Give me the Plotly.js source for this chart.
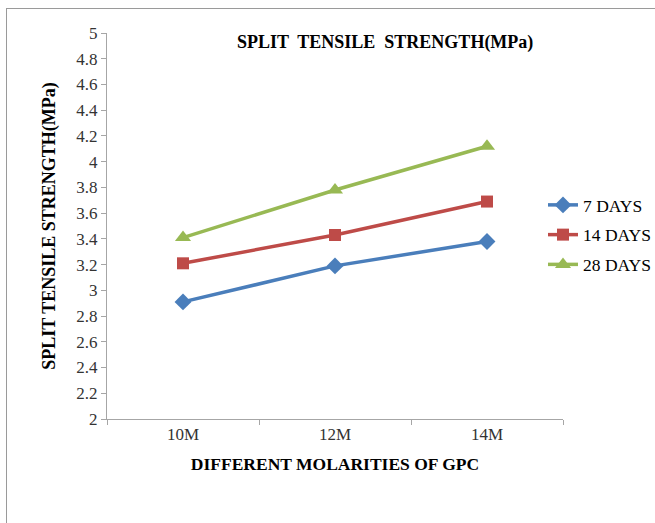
<!DOCTYPE html>
<html>
<head>
<meta charset="utf-8">
<script src="https://cdn.plot.ly/plotly-3.0.1.min.js"></script>
<style>
html,body{margin:0;padding:0;background:#fff;}
#wrap{position:relative;width:655px;height:523px;}
#chart{position:absolute;left:0;top:0;width:655px;height:523px;}
#frame{position:absolute;left:6px;top:8px;width:660px;height:530px;border-left:1px solid #9a9a9a;border-top:1px solid #9a9a9a;pointer-events:none;}
</style>
</head>
<body>
<div id="wrap"><div id="chart"></div><div id="frame"></div></div>
<script>
const categories = ['10M', '12M', '14M'];
const days7 = [2.91, 3.19, 3.38];
const days14 = [3.21, 3.43, 3.69];
const days28 = [3.41, 3.78, 4.12];
const seriesNames = ['7 DAYS', '14 DAYS', '28 DAYS'];
const yTicks = [2, 2.2, 2.4, 2.6, 2.8, 3, 3.2, 3.4, 3.6, 3.8, 4, 4.2, 4.4, 4.6, 4.8, 5];

const font = 'Liberation Serif, DejaVu Serif, serif';
const colors = ['#4a7ebb', '#be4b48', '#98b954'];
const symbols = ['diamond', 'square', 'triangle-up'];
const sizes = [13, 12, 14];
const data = [days7, days14, days28].map((v, i) => ({
  x: categories, y: v, name: seriesNames[i], type: 'scatter', mode: 'lines+markers',
  legendgroup: 'g' + i,
  line: {color: colors[i], width: 3.5},
  marker: {color: colors[i], symbol: symbols[i], size: sizes[i]}
}));

const layout = {
  width: 655, height: 523,
  margin: {l: 107, r: 92, t: 33, b: 104, autoexpand: false},
  paper_bgcolor: '#fff', plot_bgcolor: '#fff',
  font: {family: font, size: 17, color: '#222'},
  title: {text: '<b>SPLIT  TENSILE  STRENGTH(MPa)</b>', font: {family: font, size: 18, color: '#000'},
    xref: 'paper', x: 0.61, xanchor: 'center', yref: 'container', y: 1 - 42/523, yanchor: 'middle'},
  xaxis: {
    type: 'category', range: [-0.5, 2.5], tickson: 'boundaries', ticks: 'outside', ticklen: 5, tickcolor: '#a6a6a6',
    showline: true, linecolor: '#a6a6a6', linewidth: 1, showgrid: false, zeroline: false,
    tickfont: {family: font, size: 17, color: '#333'},
    title: {text: '<b>DIFFERENT MOLARITIES OF GPC</b>', font: {family: font, size: 17.5, color: '#000'}, standoff: 14}
  },
  yaxis: {
    range: [2, 5], tickvals: yTicks, ticktext: yTicks.map(String), ticks: 'outside', ticklen: 5, tickcolor: '#a6a6a6',
    showline: true, linecolor: '#a6a6a6', linewidth: 1, showgrid: false, zeroline: false,
    tickfont: {family: font, size: 17, color: '#333'},
    title: {text: '<b>SPLIT TENSILE STRENGTH(MPa)</b>', font: {family: font, size: 18, color: '#000'}, standoff: 16}
  },
  legend: {xref: 'container', yref: 'container', x: 543/655, xanchor: 'left', y: 1 - 235/523, yanchor: 'middle', tracegroupgap: 4,
    font: {family: font, size: 17.5, color: '#000'}, bgcolor: 'rgba(0,0,0,0)', itemwidth: 30},
  showlegend: true
};
Plotly.newPlot('chart', data, layout, {displayModeBar: false, staticPlot: true});
</script>
</body>
</html>
